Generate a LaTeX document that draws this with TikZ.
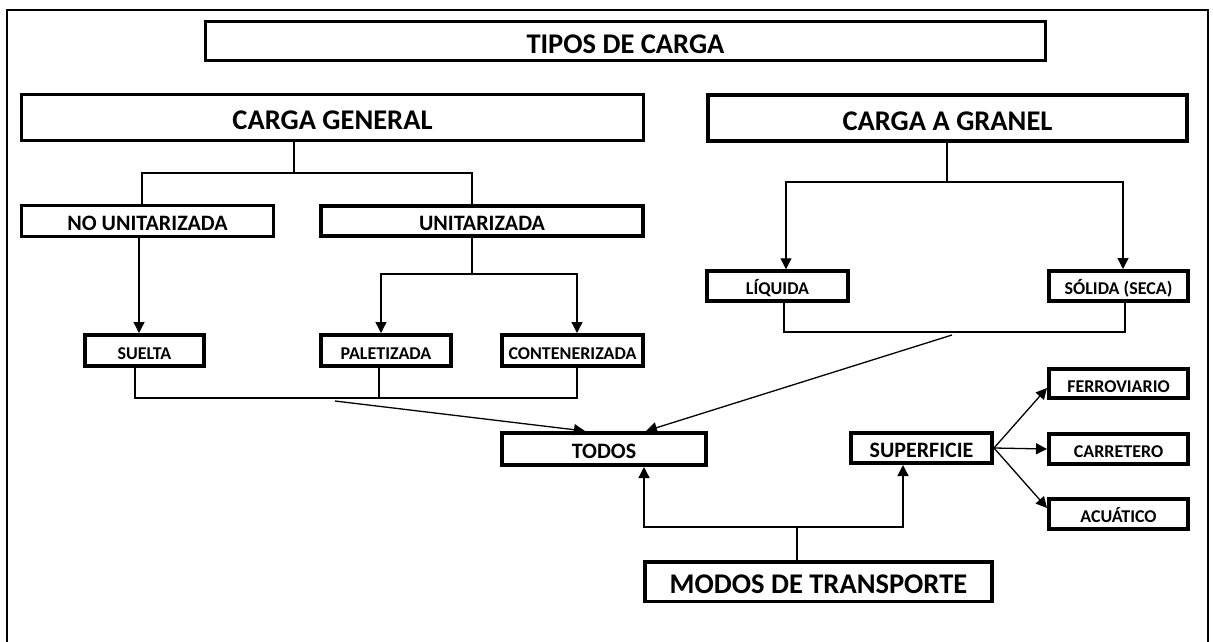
\documentclass[tikz,border=0pt]{standalone}
\usepackage{fontspec}
\setmainfont{Carlito}
\usetikzlibrary{arrows.meta}
\begin{document}
\begin{tikzpicture}[x=1pt,y=-1pt,
  box/.style={draw, inner sep=0pt, align=center, text depth=0pt},
  bxA/.style={box, font=\fontsize{28.5}{30}\selectfont\bfseries, text height=24pt},
  bxB/.style={box, font=\fontsize{22}{24}\selectfont\bfseries, text height=18pt},
  bxC/.style={box, font=\fontsize{18}{20}\selectfont\bfseries, text height=17.4pt},
  con/.style={line width=1.3pt},
  arr/.style={con, -{Triangle[length=11pt,width=11pt]}},
  frame/.style={line width=2.4pt}]
\useasboundingbox (0,0) rectangle (1213,641);
\draw[frame] (7,660) -- (7,10) -- (1208,10) -- (1208,660);

% boxes
\node[bxA, line width=3.3pt, minimum width=840pt, minimum height=39pt] (tipos) at (625.5,41) {TIPOS DE CARGA};
\node[bxA, line width=2.7pt, minimum width=622pt, minimum height=46pt] (cg) at (332.5,117.5) {CARGA GENERAL};
\node[bxA, line width=4pt, minimum width=479pt, minimum height=46pt] (cag) at (947.5,118) {CARGA A GRANEL};
\node[bxB, line width=2.5pt, minimum width=252pt, minimum height=31pt] (nounit) at (147.5,221) {NO UNITARIZADA};
\node[bxB, line width=4pt, minimum width=322pt, minimum height=30pt] (unit) at (482,221) {UNITARIZADA};
\node[bxC, line width=4pt, minimum width=119pt, minimum height=31pt] (suelta) at (144.5,350.5) {SUELTA};
\node[bxC, line width=4pt, minimum width=130pt, minimum height=31pt] (palet) at (386,350.5) {PALETIZADA};
\node[bxC, line width=4pt, minimum width=141pt, minimum height=31pt] (conten) at (572.5,350.5) {CONTENERIZADA};
\node[bxC, line width=3.5pt, minimum width=141pt, minimum height=30pt] (liq) at (777.5,286) {LÍQUIDA};
\node[bxC, line width=4pt, minimum width=139pt, minimum height=30pt] (sol) at (1118.5,286) {SÓLIDA (SECA)};
\node[bxB, line width=4pt, minimum width=204pt, minimum height=32pt] (todos) at (604,449) {TODOS};
\node[bxB, line width=4pt, minimum width=141pt, minimum height=30pt] (superf) at (921.5,448) {SUPERFICIE};
\node[bxC, line width=4pt, minimum width=139pt, minimum height=29pt] (ferro) at (1118.5,383.5) {FERROVIARIO};
\node[bxC, line width=4pt, minimum width=139pt, minimum height=30pt] (carret) at (1118.5,449) {CARRETERO};
\node[bxC, line width=4pt, minimum width=139pt, minimum height=30pt] (acua) at (1118.5,514) {ACUÁTICO};
\node[bxA, line width=3.5pt, minimum width=347pt, minimum height=39.5pt] (modos) at (818.5,581.5) {MODOS DE TRANSPORTE};

% carga general split
\coordinate (g1) at (294,173);
\coordinate (g2) at (142,173);
\coordinate (g3) at (472,173);
\draw[con] (cg.south -| g1) -- (g1);
\draw[con] (g2 |- nounit.north) -- (g2) -- (g3) -- (g3 |- unit.north);

% no unitarizada -> suelta
\coordinate (n1) at (139,280);
\draw[arr] (nounit.south -| n1) -- (n1 |- suelta.north);

% unitarizada split
\coordinate (u1) at (472,274);
\coordinate (u2) at (381,274);
\coordinate (u3) at (577,274);
\draw[con] (unit.south -| u1) -- (u1);
\draw[arr] (u1) -- (u2) -- (u2 |- palet.north);
\draw[arr] (u1) -- (u3) -- (u3 |- conten.north);

% merge of general cargo
\coordinate (m1) at (135,398);
\coordinate (m2) at (379,398);
\coordinate (m3) at (577,398);
\draw[con] (suelta.south -| m1) -- (m1) -- (m3) -- (conten.south -| m3);
\draw[con] (palet.south -| m2) -- (m2);
\coordinate (d1) at (335,401);
\coordinate (d2) at (585,420);
\draw[arr] (d1) -- (d2 |- todos.north);

% carga a granel split
\coordinate (c1) at (947,182);
\coordinate (c2) at (786,182);
\coordinate (c3) at (1123,182);
\draw[con] (cag.south -| c1) -- (c1);
\draw[arr] (c1) -- (c2) -- (c2 |- liq.north);
\draw[arr] (c1) -- (c3) -- (c3 |- sol.north);

% merge of bulk cargo
\coordinate (l1) at (784,332);
\coordinate (l2) at (1125,332);
\draw[con] (liq.south -| l1) -- (l1) -- (l2) -- (sol.south -| l2);
\coordinate (d3) at (952,335);
\coordinate (d4) at (646,420);
\draw[arr] (d3) -- (d4 |- todos.north);

% modos de transporte
\coordinate (o1) at (797,527);
\coordinate (o2) at (644,527);
\coordinate (o3) at (903,527);
\draw[con] (modos.north -| o1) -- (o1);
\draw[arr] (o1) -- (o2) -- (o2 |- todos.south);
\draw[arr] (o1) -- (o3) -- (o3 |- superf.south);

% superficie branches
\draw[arr] (superf.east) -- ([yshift=-4.5pt]ferro.west);
\draw[arr] (superf.east) -- (carret.west);
\draw[arr] (superf.east) -- ([yshift=6pt]acua.west);
\end{tikzpicture}
\end{document}
